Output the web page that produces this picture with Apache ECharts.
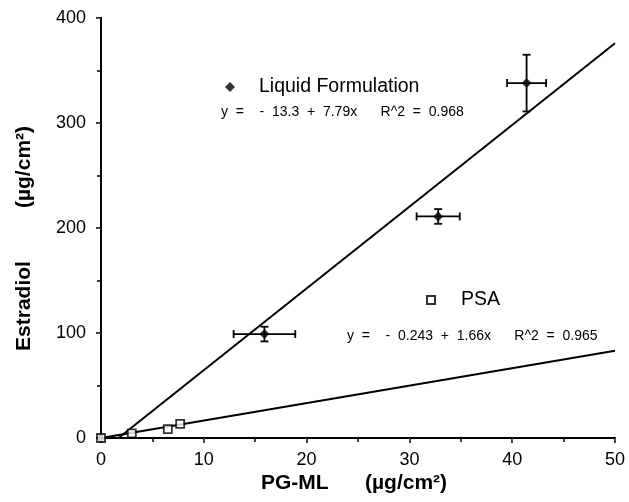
<!DOCTYPE html>
<html>
<head>
<meta charset="utf-8">
<script src="https://cdn.jsdelivr.net/npm/echarts@6/dist/echarts.min.js"></script>
<style>
  html, body { margin: 0; padding: 0; background: #fff; }
  #chart { width: 629px; height: 502px; }
</style>
</head>
<body>
<div id="chart"></div>
<script>
// values
const liquidX = [0, 15.9, 32.8, 41.4]
const liquidY = [0, 99, 211, 338]
const liquidXErr = [0, 3.0, 2.1, 1.9]
const liquidYErr = [0, 7, 7, 27]

const psaX = [0, 3.0, 6.5, 7.7]
const psaY = [0, 4.5, 8.5, 13.5]

// fitted lines, end points as drawn
const liquidFit = [[1.7, 0], [50, 376]]
const psaFit = [[0, 0], [50, 83]]

const xTicks = [0, 10, 20, 30, 40, 50]
const yTicks = [0, 100, 200, 300, 400]

const liquidEq = 'y  =    -  13.3  +  7.79x      R^2  =  0.968'
const psaEq = 'y  =    -  0.243  +  1.66x      R^2  =  0.965'

const font = '"Liberation Sans", Arial, Helvetica, sans-serif'

const chart = echarts.init(document.getElementById('chart'), null, {renderer: 'canvas'})

const errData = liquidX.map((x, i) => [x, liquidY[i], liquidXErr[i], liquidYErr[i]])
  .filter(d => d[2] > 0 || d[3] > 0)

function renderErr(params, api) {
  const x = api.value(0), y = api.value(1), dx = api.value(2), dy = api.value(3)
  const l = api.coord([x - dx, y]), r = api.coord([x + dx, y])
  const t = api.coord([x, y + dy]), b = api.coord([x, y - dy])
  const c = 4
  const style = {stroke: '#000', lineWidth: 1.8}
  const seg = (x1, y1, x2, y2) => ({type: 'line', shape: {x1, y1, x2, y2}, style})
  return {
    type: 'group',
    children: [
      seg(l[0], l[1], r[0], r[1]),
      seg(l[0], l[1] - c, l[0], l[1] + c),
      seg(r[0], r[1] - c, r[0], r[1] + c),
      seg(t[0], t[1], b[0], b[1]),
      seg(t[0] - c, t[1], t[0] + c, t[1]),
      seg(b[0] - c, b[1], b[0] + c, b[1])
    ]
  }
}

const baseAxis = {
  axisLine: {lineStyle: {color: '#000', width: 2}},
  splitLine: {show: false}
}

const option = {
  backgroundColor: '#fff',
  animation: false,
  textStyle: {fontFamily: font},
  grid: {left: 101, right: 14, top: 18, bottom: 64},
  xAxis: [{
    ...baseAxis,
    type: 'value',
    min: 0,
    max: 50,
    interval: 10,
    axisTick: {show: true, length: 5, lineStyle: {color: '#000', width: 1.5}},
    minorTick: {show: true, splitNumber: 2, length: 4, lineStyle: {color: '#000', width: 1.5}},
    axisLabel: {
      color: '#000', fontSize: 18, margin: 13, fontFamily: font,
      formatter: v => xTicks.includes(v) ? String(v) : ''
    }
  }, {
    ...baseAxis,
    type: 'value',
    position: 'top',
    min: 0,
    max: 50,
    interval: 10,
    axisTick: {show: true, inside: true, length: 3, lineStyle: {color: '#555', width: 1}},
    axisLabel: {show: false}
  }],
  yAxis: [{
    ...baseAxis,
    type: 'value',
    min: 0,
    max: 400,
    interval: 100,
    axisTick: {show: true, length: 5, lineStyle: {color: '#000', width: 1.5}},
    minorTick: {show: true, splitNumber: 2, length: 4, lineStyle: {color: '#000', width: 1.5}},
    axisLabel: {
      color: '#000', fontSize: 18, margin: 15, fontFamily: font,
      formatter: v => yTicks.includes(v) ? String(v) : ''
    }
  }, {
    ...baseAxis,
    type: 'value',
    position: 'right',
    min: 0,
    max: 400,
    interval: 100,
    axisTick: {show: true, inside: true, length: 3, lineStyle: {color: '#555', width: 1}},
    axisLabel: {show: false}
  }],
  legend: [{
    data: ['Liquid Formulation'],
    left: 220,
    top: 72,
    icon: 'diamond',
    itemWidth: 10,
    itemHeight: 10,
    textStyle: {color: '#000', fontSize: 19.5, fontFamily: font, padding: [0, 0, 0, 19]}
  }, {
    data: ['PSA'],
    left: 421,
    top: 285,
    icon: 'rect',
    itemWidth: 8,
    itemHeight: 8,
    textStyle: {color: '#000', fontSize: 19.5, fontFamily: font, padding: [0, 0, 0, 21]}
  }],
  graphic: [
    {type: 'text', left: 221, top: 105, style: {text: liquidEq, font: '14px ' + font, fill: '#000'}},
    {type: 'text', left: 347, top: 329, style: {text: psaEq, font: '14px ' + font, fill: '#000'}},
    {type: 'text', left: 261, top: 473, style: {text: 'PG-ML', font: 'bold 21px ' + font, fill: '#000'}},
    {type: 'text', left: 365, top: 473, style: {text: '(µg/cm²)', font: 'bold 21px ' + font, fill: '#000'}},
    {
      type: 'text', x: 24, y: 306, rotation: Math.PI / 2,
      style: {text: 'Estradiol', font: 'bold 21px ' + font, fill: '#000',
        align: 'center', verticalAlign: 'middle'}
    },
    {
      type: 'text', x: 24, y: 167, rotation: Math.PI / 2,
      style: {text: '(µg/cm²)', font: 'bold 21px ' + font, fill: '#000',
        align: 'center', verticalAlign: 'middle'}
    }
  ],
  series: [
    {
      name: 'liquid fit',
      type: 'line',
      data: liquidFit,
      symbol: 'none',
      lineStyle: {color: '#000', width: 2},
      silent: true
    },
    {
      name: 'psa fit',
      type: 'line',
      data: psaFit,
      symbol: 'none',
      lineStyle: {color: '#000', width: 2},
      silent: true
    },
    {
      name: 'error bars',
      type: 'custom',
      renderItem: renderErr,
      data: errData,
      z: 3
    },
    {
      name: 'Liquid Formulation',
      type: 'scatter',
      data: liquidX.map((x, i) => [x, liquidY[i]]),
      symbol: 'diamond',
      symbolSize: 10,
      itemStyle: {color: '#000'},
      z: 4
    },
    {
      name: 'PSA',
      type: 'scatter',
      data: psaX.map((x, i) => [x, psaY[i]]),
      symbol: 'rect',
      symbolSize: 8,
      itemStyle: {color: '#fff', borderColor: '#000', borderWidth: 1.8},
      z: 5
    }
  ]
}

chart.setOption(option)
</script>
</body>
</html>
